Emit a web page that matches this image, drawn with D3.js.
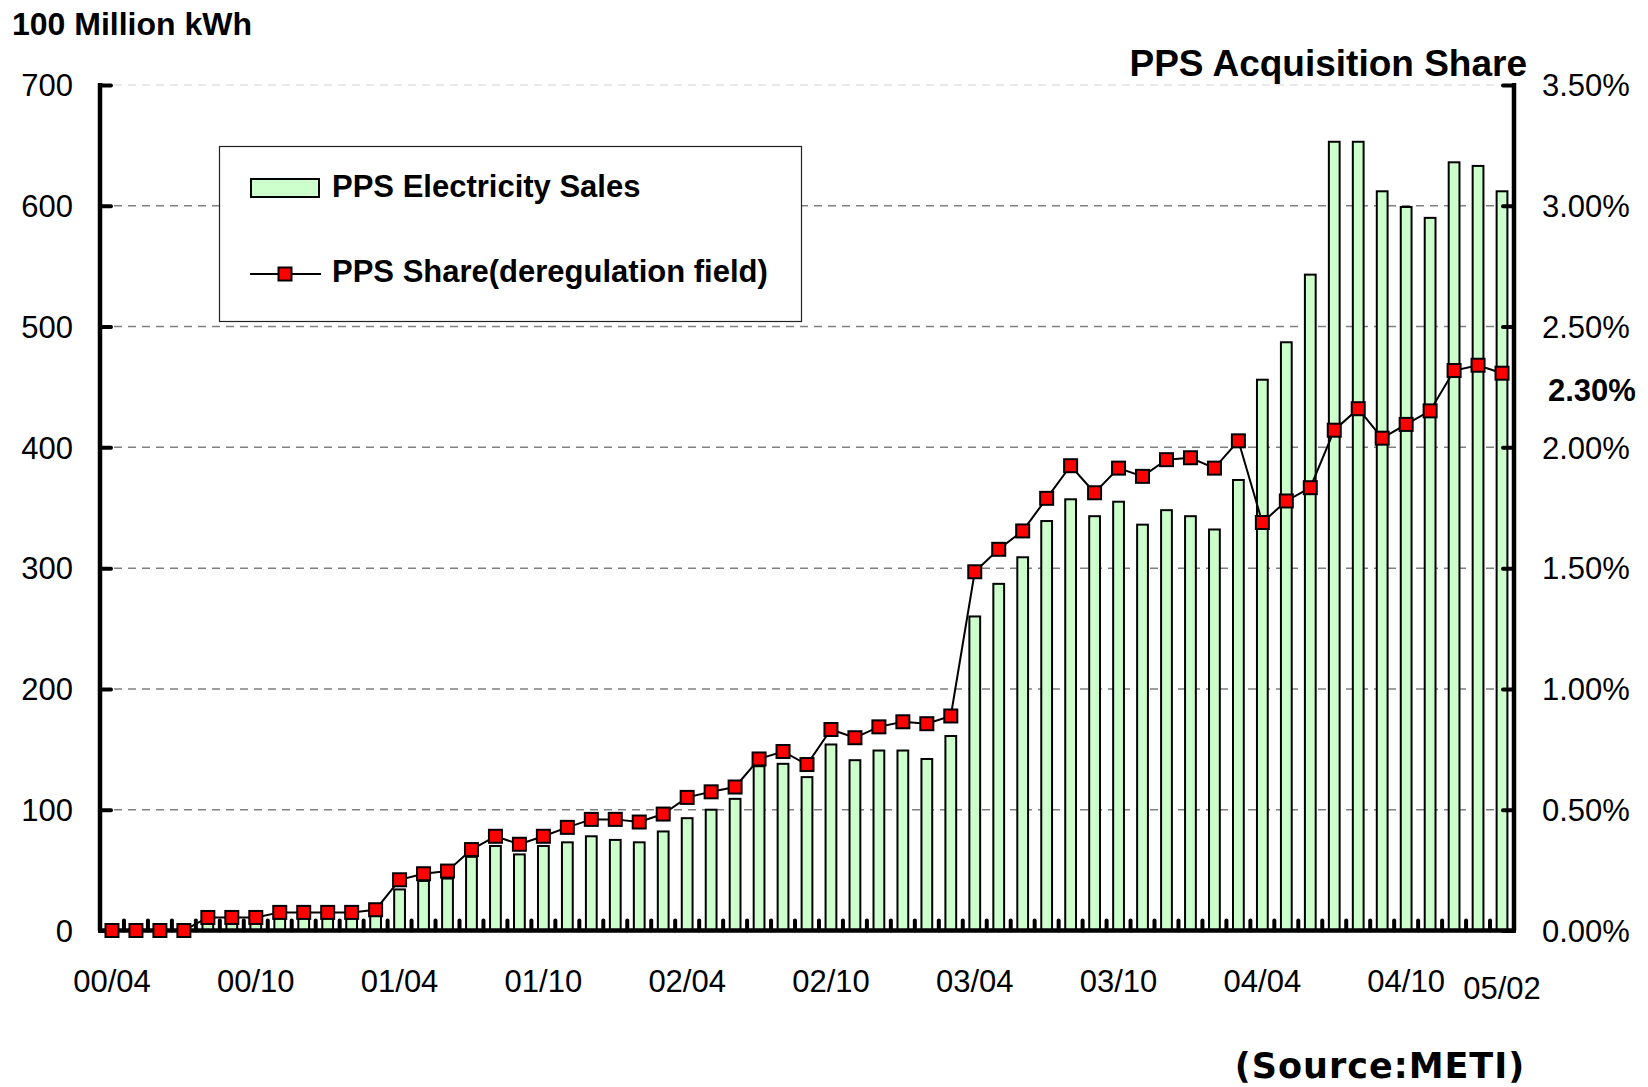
<!DOCTYPE html>
<html><head><meta charset="utf-8">
<script src="https://cdn.jsdelivr.net/npm/d3@7"></script>
<style>body{margin:0;background:#fff} svg{display:block}</style>
</head><body><svg id="c" width="1648" height="1087"></svg>
<script>
const categories = [
 "00/04","00/05","00/06","00/07","00/08","00/09","00/10","00/11","00/12",
 "01/01","01/02","01/03","01/04","01/05","01/06","01/07","01/08","01/09","01/10","01/11","01/12",
 "02/01","02/02","02/03","02/04","02/05","02/06","02/07","02/08","02/09","02/10","02/11","02/12",
 "03/01","03/02","03/03","03/04","03/05","03/06","03/07","03/08","03/09","03/10","03/11","03/12",
 "04/01","04/02","04/03","04/04","04/05","04/06","04/07","04/08","04/09","04/10","04/11","04/12",
 "05/01","05/02"];
const sales = [
 0,0,0,0,6,6,6,10,10,
 10,10,12,34,41,43,61,70,63,70,73,78,
 75,73,82,93,100,109,136,138,127,154,141,149,
 149,142,161,260,287,309,339,357,343,355,336,348,
 343,332,373,456,487,543,653,653,612,599,590,636,
 633,612];
const share = [
 0,0,0,0,0.054,0.054,0.054,0.075,0.075,
 0.075,0.075,0.086,0.21,0.235,0.246,0.335,0.39,0.357,0.39,0.427,0.46,
 0.46,0.449,0.482,0.551,0.574,0.594,0.71,0.741,0.687,0.832,0.798,0.843,
 0.864,0.856,0.888,1.485,1.578,1.654,1.789,1.924,1.812,1.914,1.88,1.949,
 1.957,1.914,2.027,1.689,1.778,1.833,2.071,2.16,2.038,2.095,2.151,2.318,
 2.34,2.307];
const leftTicks = [0,100,200,300,400,500,600,700];
const rightTicks = [0,0.5,1.0,1.5,2.0,2.5,3.0,3.5];
const xTickLabels = ["00/04","00/10","01/04","01/10","02/04","02/10","03/04","03/10","04/04","04/10","05/02"];
const seriesNames = ["PPS Electricity Sales","PPS Share(deregulation field)"];
const lastShareLabel = "2.30%";

const FONT = "'Liberation Sans', Arial, sans-serif";
const svg = d3.select("#c");
const L = 100, R = 1514, B = 930.5, T = 85;

const x = d3.scaleBand().domain(categories).range([L, R]).paddingInner(0.55).paddingOuter(0.275);
const yL = d3.scaleLinear().domain([0, 700]).range([B, T]);
const yR = d3.scaleLinear().domain([0, 3.5]).range([B, T]);
const cx = d => x(d) + x.bandwidth() / 2;

// gridlines
svg.append("g").selectAll("line").data(leftTicks.filter(v => v > 0)).join("line")
  .attr("x1", L).attr("x2", R).attr("y1", d => yL(d)).attr("y2", d => yL(d))
  .attr("stroke", d => d === 700 ? "#e2e2e2" : "#808080").attr("stroke-width", 1.5)
  .attr("stroke-dasharray", "8,6");

// bars
svg.append("g").selectAll("rect").data(categories).join("rect")
  .filter((d, i) => sales[i] > 0)
  .attr("x", d => x(d)).attr("width", x.bandwidth())
  .attr("y", (d) => yL(sales[categories.indexOf(d)]))
  .attr("height", d => B - yL(sales[categories.indexOf(d)]))
  .attr("fill", "#ccffcc").attr("stroke", "#000").attr("stroke-width", 2);

// axes (left)
const axL = d3.axisLeft(yL).tickValues(leftTicks).tickSize(-11).tickFormat("");
const gL = svg.append("g").attr("transform", `translate(${L},0)`).call(axL);
gL.select(".domain").remove();
gL.selectAll(".tick line").attr("stroke", "#000").attr("stroke-width", 4).attr("stroke-linecap", "round");
svg.append("g").selectAll("text").data(leftTicks).join("text")
  .attr("x", 73).attr("y", d => yL(d)).attr("dy", "0.36em").attr("text-anchor", "end")
  .attr("font-family", FONT).attr("font-size", 31).text(d => d);

// right axis
const axR = d3.axisRight(yR).tickValues(rightTicks).tickSize(-11).tickFormat("");
const gR = svg.append("g").attr("transform", `translate(${R},0)`).call(axR);
gR.select(".domain").remove();
gR.selectAll(".tick line").attr("stroke", "#000").attr("stroke-width", 4).attr("stroke-linecap", "round");
svg.append("g").selectAll("text").data(rightTicks).join("text")
  .attr("x", 1542).attr("y", d => yR(d)).attr("dy", "0.36em").attr("text-anchor", "start")
  .attr("font-family", FONT).attr("font-size", 31).text(d => d.toFixed(2) + "%");

// x axis ticks between categories
const step = x.step();
const bounds = d3.range(1, categories.length).map(k => L + k * step);
svg.append("g").selectAll("line").data(bounds).join("line")
  .attr("x1", d => d).attr("x2", d => d).attr("y1", B).attr("y2", B - 10)
  .attr("stroke", "#000").attr("stroke-width", 4).attr("stroke-linecap", "round");

// axis lines
svg.append("line").attr("x1", L).attr("x2", L).attr("y1", T - 2).attr("y2", B)
  .attr("stroke", "#000").attr("stroke-width", 4.5);
svg.append("line").attr("x1", R).attr("x2", R).attr("y1", T - 2).attr("y2", B)
  .attr("stroke", "#000").attr("stroke-width", 4.5);
svg.append("line").attr("x1", L - 2).attr("x2", R + 2).attr("y1", B).attr("y2", B)
  .attr("stroke", "#000").attr("stroke-width", 4.5);

// share line + markers
const line = d3.line().x((d, i) => cx(categories[i])).y(d => yR(d));
svg.append("path").datum(share).attr("d", line).attr("fill", "none")
  .attr("stroke", "#000").attr("stroke-width", 2);
const MS = 13;
svg.append("g").selectAll("rect").data(share).join("rect")
  .attr("x", (d, i) => cx(categories[i]) - MS / 2).attr("y", d => yR(d) - MS / 2)
  .attr("width", MS).attr("height", MS)
  .attr("fill", "#ff0000").attr("stroke", "#000").attr("stroke-width", 2);

// x labels
svg.append("g").selectAll("text").data(xTickLabels).join("text")
  .attr("x", d => cx(d)).attr("y", d => d === "05/02" ? 999 : 992)
  .attr("text-anchor", "middle").attr("font-family", FONT).attr("font-size", 31).text(d => d);

// annotations
svg.append("text").attr("x", 1548).attr("y", 401).attr("font-family", FONT)
  .attr("font-size", 31).attr("font-weight", "bold").text(lastShareLabel);
svg.append("text").attr("x", 12).attr("y", 35).attr("font-family", FONT)
  .attr("font-size", 32).attr("font-weight", "bold").text("100 Million kWh");
svg.append("text").attr("x", 1527).attr("y", 76).attr("text-anchor", "end").attr("font-family", FONT)
  .attr("font-size", 37).attr("font-weight", "bold").text("PPS Acquisition Share");
svg.append("text").attr("x", 1380).attr("y", 1078).attr("text-anchor", "middle")
  .attr("font-family", "'DejaVu Sans', Verdana, sans-serif").attr("letter-spacing", 1)
  .attr("font-size", 35).attr("font-weight", "bold").text("(Source:METI)");

// legend
const lg = svg.append("g");
lg.append("rect").attr("x", 219.5).attr("y", 146.5).attr("width", 582).attr("height", 175)
  .attr("fill", "#fff").attr("stroke", "#222").attr("stroke-width", 1.2);
lg.append("rect").attr("x", 251).attr("y", 179).attr("width", 68).attr("height", 18)
  .attr("fill", "#ccffcc").attr("stroke", "#000").attr("stroke-width", 2);
lg.append("line").attr("x1", 250).attr("x2", 321).attr("y1", 274).attr("y2", 274)
  .attr("stroke", "#000").attr("stroke-width", 2);
lg.append("rect").attr("x", 285 - MS / 2).attr("y", 274 - MS / 2).attr("width", MS).attr("height", MS)
  .attr("fill", "#ff0000").attr("stroke", "#000").attr("stroke-width", 2);
lg.selectAll("text.lt").data(seriesNames).join("text").attr("class", "lt")
  .attr("x", 332).attr("y", (d, i) => i === 0 ? 197 : 282)
  .attr("font-family", FONT).attr("font-size", 31).attr("font-weight", "bold").text(d => d);
</script></body></html>
